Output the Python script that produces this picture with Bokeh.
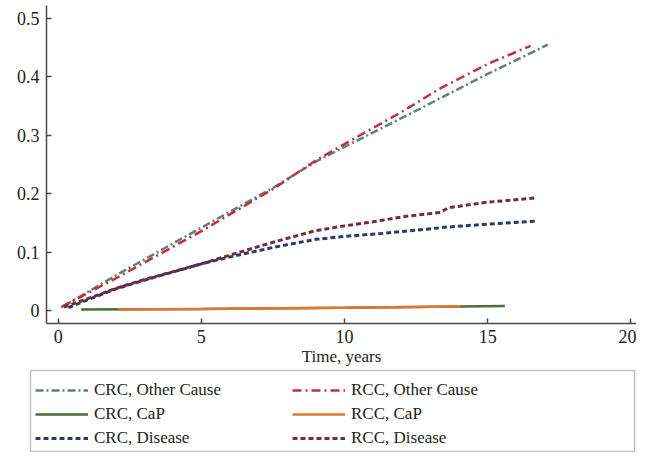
from bokeh.plotting import figure
from bokeh.layouts import column, row
from bokeh.models import Legend, LegendItem, FixedTicker, BoxAnnotation, Range1d
from bokeh.embed import file_html
from bokeh.resources import INLINE

# ---- data ----
crc_other_x = [0.2, 2, 5, 7.5, 9, 10, 12.5, 15, 17.1]
crc_other_y = [0.008, 0.06, 0.142, 0.21, 0.255, 0.28, 0.342, 0.405, 0.455]

rcc_other_x = [0.1, 2, 5, 7.5, 9, 10, 12, 13.3, 15, 16.5]
rcc_other_y = [0.006, 0.055, 0.136, 0.208, 0.257, 0.285, 0.34, 0.379, 0.422, 0.453]

crc_cap_x = [0.8, 5, 10, 15.6]
crc_cap_y = [0.002, 0.003, 0.005, 0.008]

rcc_cap_x = [2.1, 5, 10, 14.05]
rcc_cap_y = [0.002, 0.003, 0.005, 0.007]

crc_dis_x = [0.35, 1, 2, 3, 5, 6, 7.5, 9, 10, 11.3, 13.6, 15, 16.7]
crc_dis_y = [0.005, 0.018, 0.037, 0.052, 0.08, 0.092, 0.108, 0.122, 0.127, 0.132, 0.143, 0.148, 0.153]

rcc_dis_x = [0.2, 1, 2, 3, 5, 6, 7.5, 9, 10, 11, 12.1, 13.0, 13.35, 13.63, 14.9, 16.7]
rcc_dis_y = [0.006, 0.02, 0.038, 0.053, 0.08, 0.095, 0.117, 0.137, 0.145, 0.152, 0.161, 0.166, 0.168, 0.176, 0.185, 0.193]

x_ticks = [0, 5, 10, 15, 20]
y_ticks = [0, 0.1, 0.2, 0.3, 0.4, 0.5]
x_label = "Time, years"

labels = ["CRC, Other Cause", "CRC, CaP", "CRC, Disease",
          "RCC, Other Cause", "RCC, CaP", "RCC, Disease"]
colors = ["#5a8574", "#4a6e35", "#2a3d66", "#c0323a", "#e07830", "#7a2a38"]
dashes = ["8 3 2 3", "solid", "5 3", "9 4 2 4", "solid", "5 3"]
widths = [2.5, 2.5, 3, 2.5, 2.5, 3]
series_x = [crc_other_x, crc_cap_x, crc_dis_x, rcc_other_x, rcc_cap_x, rcc_dis_x]
series_y = [crc_other_y, crc_cap_y, crc_dis_y, rcc_other_y, rcc_cap_y, rcc_dis_y]

FONT = "Liberation Serif"
TOTAL_W = 636
LEG_H = 84

# ---------------- main plot ----------------
p = figure(width=TOTAL_W, height=452 - LEG_H, x_range=(-0.41, 20.2), y_range=(-0.022, 0.522),
           output_backend="svg", toolbar_location=None,
           min_border_left=46, min_border_right=0, min_border_top=5, min_border_bottom=0)
p.outline_line_color = None
p.grid.visible = False

for ax in (p.xaxis[0], p.yaxis[0]):
    ax.axis_line_color = "#4a4a4a"
    ax.axis_line_width = 1.5
    ax.major_tick_line_color = "#4a4a4a"
    ax.major_tick_line_width = 1.5
    ax.major_tick_in = 5
    ax.major_tick_out = 0
    ax.minor_tick_line_color = None
    ax.major_label_text_font = FONT
    ax.major_label_text_font_size = "18px"
    ax.major_label_text_color = "#222222"

p.xaxis.ticker = FixedTicker(ticks=x_ticks)
p.yaxis.ticker = FixedTicker(ticks=y_ticks)
p.yaxis.major_label_overrides = {0: "0"}
p.xaxis.major_label_standoff = 6
p.yaxis.major_label_standoff = 7
p.xaxis.axis_label = x_label
p.xaxis.axis_label_text_font = FONT
p.xaxis.axis_label_text_font_style = "normal"
p.xaxis.axis_label_text_font_size = "17px"
p.xaxis.axis_label_text_color = "#222222"
p.xaxis.axis_label_standoff = 1

# draw order: CRC then RCC for each cause
for i in [0, 3, 1, 4, 2, 5]:
    p.line(series_x[i], series_y[i], line_color=colors[i], line_width=widths[i], line_dash=dashes[i])

# ---------------- legend panel ----------------
lf = figure(width=TOTAL_W, height=LEG_H, x_range=Range1d(0, TOTAL_W), y_range=Range1d(0, LEG_H),
            output_backend="svg", toolbar_location=None,
            x_axis_location=None, y_axis_location=None,
            min_border_left=0, min_border_right=0, min_border_top=0, min_border_bottom=0)
lf.outline_line_color = None
lf.grid.visible = False

nan = float("nan")
proxies = [lf.line([nan], [nan], line_color=c, line_width=w, line_dash=d)
           for c, d, w in zip(colors, dashes, widths)]
items = [LegendItem(label=l, renderers=[r]) for l, r in zip(labels, proxies)]

legend = Legend(items=items, location=(35, 4), ncols=2, orientation="vertical",
                label_width=194, glyph_width=53, glyph_height=20, label_height=20,
                label_standoff=6, spacing=4, padding=0, margin=0,
                label_text_font=FONT, label_text_font_size="17px", label_text_color="#222222",
                border_line_color=None, background_fill_alpha=0)
lf.add_layout(legend, "center")

lf.add_layout(BoxAnnotation(left=30, right=634, bottom=1, top=82,
                            fill_alpha=0, line_color="#333333", line_width=1.5))

layout = column(p, row(lf), spacing=0)
open("out.html", "w").write(file_html(layout, INLINE))
